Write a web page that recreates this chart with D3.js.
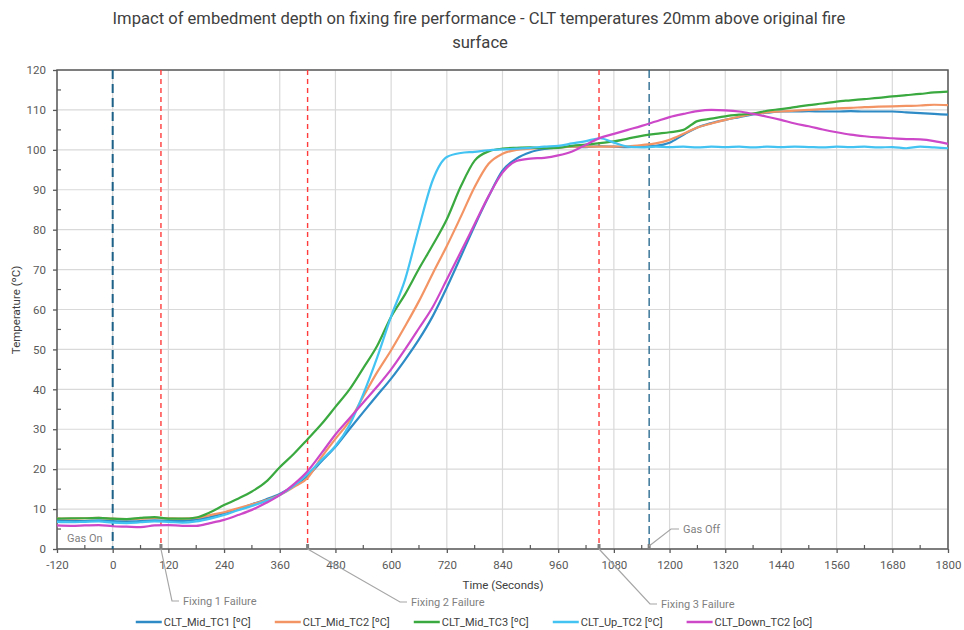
<!DOCTYPE html>
<html>
<head>
<meta charset="utf-8">
<script src="https://cdn.jsdelivr.net/npm/d3@7"></script>
<style>
body { margin: 0; background: #fff; }
text { font-family: Roboto, "Noto Sans", sans-serif; }
</style>
</head>
<body>
<svg id="chart" width="964" height="630"></svg>
<script>
// time in seconds, every 30 s
var times = [-120,-90,-60,-30,0,30,60,90,120,150,180,210,240,270,300,330,360,390,420,450,480,510,540,570,600,630,660,690,720,750,780,810,840,870,900,930,960,990,1020,1050,1080,1110,1140,1170,1200,1230,1260,1290,1320,1350,1380,1410,1440,1470,1500,1530,1560,1590,1620,1650,1680,1710,1740,1770,1800];

var midTC1 = [7.2,7.1,7.0,7.2,7.0,6.9,7.0,7.2,7.1,7.0,7.4,8.0,9.0,10.0,11.2,12.4,13.8,15.8,18.3,22.0,25.6,30.0,34.3,38.5,42.7,47.4,52.5,58.4,65.5,73.2,81.0,88.3,94.8,97.8,99.4,100.2,100.6,100.8,100.7,100.9,100.8,100.7,100.8,101.0,101.8,103.8,105.6,106.7,107.5,108.2,108.9,109.3,109.6,109.6,109.7,109.6,109.6,109.7,109.6,109.6,109.6,109.4,109.2,109.0,108.8];
var midTC2 = [7.7,7.6,7.7,7.8,7.6,7.5,7.6,7.8,7.7,7.6,7.8,8.5,9.2,10.2,11.2,12.2,13.5,15.5,17.8,23.0,27.6,32.0,38.2,44.3,49.8,55.8,62.1,69.1,75.9,83.2,90.7,96.5,99.0,100.0,100.3,100.5,100.6,100.8,100.8,100.8,100.8,100.9,101.2,101.6,102.5,104.0,105.6,106.6,107.5,108.3,109.0,109.4,109.6,109.8,110.0,110.2,110.4,110.5,110.7,110.8,110.9,111.0,111.1,111.3,111.2];
var midTC3 = [7.6,7.7,7.7,7.8,7.6,7.5,7.8,8.0,7.6,7.6,7.9,9.2,11.0,12.6,14.4,16.8,20.5,23.8,27.5,31.3,35.6,39.9,45.3,50.9,58.2,63.8,70.2,76.2,82.6,90.8,97.3,99.6,100.3,100.5,100.6,100.4,100.5,101.0,101.3,101.7,102.1,102.8,103.5,104.0,104.4,105.0,107.2,107.8,108.4,108.8,109.1,109.8,110.2,110.7,111.2,111.6,112.1,112.4,112.7,113.0,113.4,113.7,114.0,114.4,114.6];
var upTC2 = [6.8,6.7,6.8,6.9,6.6,6.5,6.7,6.9,6.8,6.6,6.9,7.6,8.5,9.7,10.8,12.0,13.5,15.8,18.8,22.3,25.8,31.0,38.8,48.0,58.3,67.5,80.5,92.5,98.2,99.2,99.5,99.9,100.1,100.3,100.5,100.8,101.0,101.6,102.2,102.9,101.8,100.8,100.6,100.8,100.7,100.8,100.6,100.8,100.7,100.8,100.6,100.8,100.7,100.8,100.7,100.6,100.8,100.7,100.8,100.6,100.7,100.4,100.8,100.6,100.4];
var downTC2 = [5.9,5.8,5.9,6.0,5.7,5.6,5.5,5.9,6.0,5.8,5.8,6.5,7.3,8.5,9.8,11.5,13.5,16.2,19.5,24.0,28.7,32.7,36.7,40.7,45.0,50.0,55.3,60.7,67.5,74.4,81.4,88.4,94.3,97.2,97.8,98.0,98.6,99.6,101.3,103.0,104.0,105.0,106.0,107.1,108.2,109.0,109.7,110.0,109.9,109.6,109.0,108.3,107.5,106.6,105.9,105.1,104.4,103.8,103.4,103.1,102.9,102.7,102.6,102.2,101.5];

var seriesNames = ["CLT_Mid_TC1 [ºC]", "CLT_Mid_TC2 [ºC]", "CLT_Mid_TC3 [ºC]", "CLT_Up_TC2 [ºC]", "CLT_Down_TC2 [oC]"];
var seriesValues = [midTC1, midTC2, midTC3, upTC2, downTC2];
var seriesColors = ["#2e8bc6", "#f39465", "#3aa93f", "#42c3f2", "#cc48c9"];

var xTicks = d3.range(-120, 1801, 120);
var yTicks = d3.range(0, 121, 10);

var gasOn = 0, gasOff = 1156;
var fixingTimes = [104, 420, 1048];
var fixingLabels = ["Fixing 1 Failure", "Fixing 2 Failure", "Fixing 3 Failure"];

var svg = d3.select("#chart");
var plotLeft = 57, plotRight = 948, plotTop = 70, plotBottom = 549;

var x = d3.scaleLinear().domain([-120, 1800]).range([plotLeft, plotRight]);
var y = d3.scaleLinear().domain([0, 120]).range([plotBottom, plotTop]);

// title
svg.append("text").attr("x", 479).attr("y", 24).attr("text-anchor", "middle")
  .attr("font-size", "16.6px").attr("fill", "#404040")
  .text("Impact of embedment depth on fixing fire performance - CLT temperatures 20mm above original fire");
svg.append("text").attr("x", 480).attr("y", 48).attr("text-anchor", "middle")
  .attr("font-size", "16.6px").attr("fill", "#404040")
  .text("surface");

// gridlines
svg.append("g").selectAll("line").data(xTicks).enter().append("line")
  .attr("x1", function(d){ return x(d); }).attr("x2", function(d){ return x(d); })
  .attr("y1", plotTop).attr("y2", plotBottom)
  .attr("stroke", "#d9d9d9").attr("stroke-width", 1.2);
svg.append("g").selectAll("line").data(yTicks).enter().append("line")
  .attr("x1", plotLeft).attr("x2", plotRight)
  .attr("y1", function(d){ return y(d); }).attr("y2", function(d){ return y(d); })
  .attr("stroke", "#d9d9d9").attr("stroke-width", 1.2);

// axes
var xAxis = svg.append("g").attr("transform", "translate(0," + plotBottom + ")")
  .call(d3.axisBottom(x).tickValues(xTicks).tickSize(4).tickPadding(8).tickFormat(function(d){ return String(d); }));
var yAxis = svg.append("g").attr("transform", "translate(" + plotLeft + ",0)")
  .call(d3.axisLeft(y).tickValues(yTicks).tickSize(4).tickPadding(7));
[xAxis, yAxis].forEach(function(a){
  a.select(".domain").remove();
  a.selectAll("line").attr("stroke", "#595959").attr("stroke-width", 1.3);
  a.selectAll("text").attr("font-size", "11.5px").attr("fill", "#595959")
    .style("font-family", "Roboto, 'Noto Sans', sans-serif");
});

// minor ticks (inside)
svg.append("g").selectAll("line").data(d3.range(-60, 1800, 120)).enter().append("line")
  .attr("x1", function(d){ return x(d); }).attr("x2", function(d){ return x(d); })
  .attr("y1", plotBottom - 4).attr("y2", plotBottom)
  .attr("stroke", "#595959").attr("stroke-width", 1.2);
svg.append("g").selectAll("line").data(d3.range(5, 120, 10)).enter().append("line")
  .attr("x1", plotLeft).attr("x2", plotLeft + 4)
  .attr("y1", function(d){ return y(d); }).attr("y2", function(d){ return y(d); })
  .attr("stroke", "#595959").attr("stroke-width", 1.2);

// plot border
svg.append("rect").attr("x", plotLeft).attr("y", plotTop)
  .attr("width", plotRight - plotLeft).attr("height", plotBottom - plotTop)
  .attr("fill", "none").attr("stroke", "#595959").attr("stroke-width", 1.5);

// axis titles
svg.append("text").attr("x", 503).attr("y", 589).attr("text-anchor", "middle")
  .attr("font-size", "11.5px").attr("fill", "#404040").text("Time (Seconds)");
svg.append("text").attr("transform", "translate(20,310) rotate(-90)").attr("text-anchor", "middle")
  .attr("font-size", "11.5px").attr("fill", "#404040").text("Temperature (ºC)");

// event lines
svg.append("line").attr("x1", x(gasOn)).attr("x2", x(gasOn)).attr("y1", plotTop).attr("y2", plotBottom)
  .attr("stroke", "#1d6189").attr("stroke-width", 2).attr("stroke-dasharray", "9,5");
svg.append("line").attr("x1", x(gasOff)).attr("x2", x(gasOff)).attr("y1", plotTop).attr("y2", plotBottom)
  .attr("stroke", "#1d6189").attr("stroke-width", 1.3).attr("stroke-dasharray", "8,4");
svg.append("g").selectAll("line").data(fixingTimes).enter().append("line")
  .attr("x1", function(d){ return x(d); }).attr("x2", function(d){ return x(d); })
  .attr("y1", plotTop).attr("y2", plotBottom)
  .attr("stroke", "#ff3b3b").attr("stroke-width", 1.4).attr("stroke-dasharray", "5,4");

// series lines
var line = d3.line()
  .x(function(d, i){ return x(times[i]); })
  .y(function(d){ return y(d); })
  .curve(d3.curveMonotoneX);
svg.append("g").selectAll("path").data(seriesValues).enter().append("path")
  .attr("d", function(d){ return line(d); })
  .attr("fill", "none")
  .attr("stroke", function(d, i){ return seriesColors[i]; })
  .attr("stroke-width", 2.2);

// annotations with leader lines
var leaderColor = "#a6a6a6", noteColor = "#7f7f7f";
svg.append("text").attr("x", 67).attr("y", 542).attr("font-size", "11px").attr("fill", noteColor).text("Gas On");

var notes = [
  {t: fixingTimes[0], ex: 172, ey: 601, tx: 183, label: fixingLabels[0]},
  {t: fixingTimes[1], ex: 400, ey: 602, tx: 411, label: fixingLabels[1]},
  {t: fixingTimes[2], ex: 650, ey: 604, tx: 661, label: fixingLabels[2]},
  {t: gasOff, ex: 671, ey: 529, tx: 683, label: "Gas Off", up: true}
];
notes.forEach(function(n){
  var sx = x(n.t), sy = n.up ? plotBottom - 3 : plotBottom;
  svg.append("rect").attr("x", sx - 1.5).attr("y", plotBottom - 5).attr("width", 3).attr("height", 5).attr("fill", "#808080");
  svg.append("polyline")
    .attr("points", [[sx, sy], [n.ex, n.ey], [n.tx - 4, n.ey]].map(function(p){ return p.join(","); }).join(" "))
    .attr("fill", "none").attr("stroke", leaderColor).attr("stroke-width", 1.2);
  svg.append("text").attr("x", n.tx).attr("y", n.ey).attr("dy", "0.35em")
    .attr("font-size", "11px").attr("fill", noteColor).text(n.label);
});

// legend
var legend = svg.append("g");
var items = legend.selectAll("g").data(seriesNames).enter().append("g");
items.append("line").attr("x1", 0).attr("x2", 26).attr("y1", 0).attr("y2", 0)
  .attr("stroke", function(d, i){ return seriesColors[i]; }).attr("stroke-width", 2.5);
items.append("text").attr("x", 28).attr("dy", "0.35em").attr("font-size", "11px").attr("fill", "#404040")
  .text(function(d){ return d; });
var gap = 24, pos = 0, offsets = [];
items.each(function(){
  offsets.push(pos);
  pos += 28 + d3.select(this).select("text").node().getComputedTextLength() + gap;
});
var totalW = pos - gap;
var startX = 474 - totalW / 2;
items.attr("transform", function(d, i){ return "translate(" + (startX + offsets[i]) + ",622)"; });
</script>
</body>
</html>
